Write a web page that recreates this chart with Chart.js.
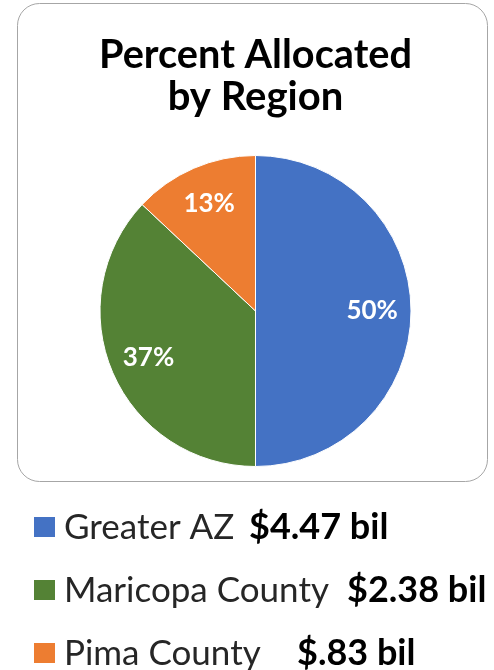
<!DOCTYPE html>
<html>
<head>
<meta charset="utf-8">
<script src="https://cdn.jsdelivr.net/npm/chart.js@4"></script>
<style>
html,body{margin:0;padding:0;background:#fff;}
#wrap{position:relative;width:494px;height:670px;}
</style>
</head>
<body>
<div id="wrap"><canvas id="c" width="494" height="670"></canvas></div>
<script>
// ---- data ----
const categories = ['Greater AZ', 'Maricopa County', 'Pima County'];
const percentValues = [50, 37, 13];
const amountLabels = ['$4.47 bil', '$2.38 bil', '$.83 bil'];
const titleLines = ['Percent Allocated', 'by Region'];
// ---- style ----
const sliceColors = ['#4472C4', '#548235', '#ED7D31'];
const amountX = [249, 347, 297];

const FONT = 'Lato, "Open Sans", sans-serif';

const boxPlugin = {
  id: 'box',
  beforeDraw(chart) {
    const ctx = chart.ctx;
    ctx.save();
    ctx.fillStyle = '#fff';
    ctx.fillRect(0, 0, chart.width, chart.height);
    const x = 17.5, y = 3.5, w = 470, h = 478, r = 22;
    ctx.beginPath();
    ctx.moveTo(x + r, y);
    ctx.lineTo(x + w - r, y);
    ctx.arcTo(x + w, y, x + w, y + r, r);
    ctx.lineTo(x + w, y + h - r);
    ctx.arcTo(x + w, y + h, x + w - r, y + h, r);
    ctx.lineTo(x + r, y + h);
    ctx.arcTo(x, y + h, x, y + h - r, r);
    ctx.lineTo(x, y + r);
    ctx.arcTo(x, y, x + r, y, r);
    ctx.closePath();
    ctx.strokeStyle = '#A6A6A6';
    ctx.lineWidth = 1;
    ctx.stroke();
    ctx.restore();
  }
};

const labelPlugin = {
  id: 'sliceLabels',
  afterDatasetsDraw(chart) {
    const ctx = chart.ctx;
    const meta = chart.getDatasetMeta(0);
    ctx.save();
    ctx.fillStyle = '#fff';
    ctx.font = 'bold 26px ' + FONT;
    ctx.textAlign = 'center';
    ctx.textBaseline = 'middle';
    meta.data.forEach((arc, i) => {
      const p = arc.getProps(['x', 'y', 'startAngle', 'endAngle', 'outerRadius'], true);
      const mid = (p.startAngle + p.endAngle) / 2;
      const rr = p.outerRadius * 0.75;
      ctx.fillText(percentValues[i] + '%', p.x + Math.cos(mid) * rr, p.y + Math.sin(mid) * rr);
    });
    ctx.restore();
  }
};

const legendPlugin = {
  id: 'sideLegend',
  afterDraw(chart) {
    const ctx = chart.ctx;
    ctx.save();
    const rowY = [527, 590, 653];
    categories.forEach((cat, i) => {
      const cy = rowY[i];
      ctx.fillStyle = sliceColors[i];
      ctx.fillRect(34, cy - 10, 21, 20);
      ctx.fillStyle = '#262626';
      ctx.font = '35px ' + FONT;
      ctx.textAlign = 'left';
      ctx.textBaseline = 'middle';
      ctx.fillText(cat, 64, cy + 1);
      ctx.fillStyle = '#000';
      ctx.font = 'bold 36px ' + FONT;
      ctx.fillText(amountLabels[i], amountX[i], cy);
    });
    ctx.restore();
  }
};

new Chart(document.getElementById('c'), {
  type: 'pie',
  data: {
    labels: categories,
    datasets: [{
      data: percentValues,
      backgroundColor: sliceColors,
      borderColor: '#fff',
      borderWidth: 1
    }]
  },
  options: {
    responsive: false,
    animation: false,
    events: [],
    layout: { padding: { left: 99, right: 82, top: 0, bottom: 203 } },
    plugins: {
      legend: { display: false },
      tooltip: { enabled: false },
      title: {
        display: true,
        text: titleLines,
        color: '#000',
        font: { family: FONT, size: 40, weight: 'bold', lineHeight: 1.05 },
        padding: { top: 34, bottom: 37 }
      }
    }
  },
  plugins: [boxPlugin, labelPlugin, legendPlugin]
});
</script>
</body>
</html>
